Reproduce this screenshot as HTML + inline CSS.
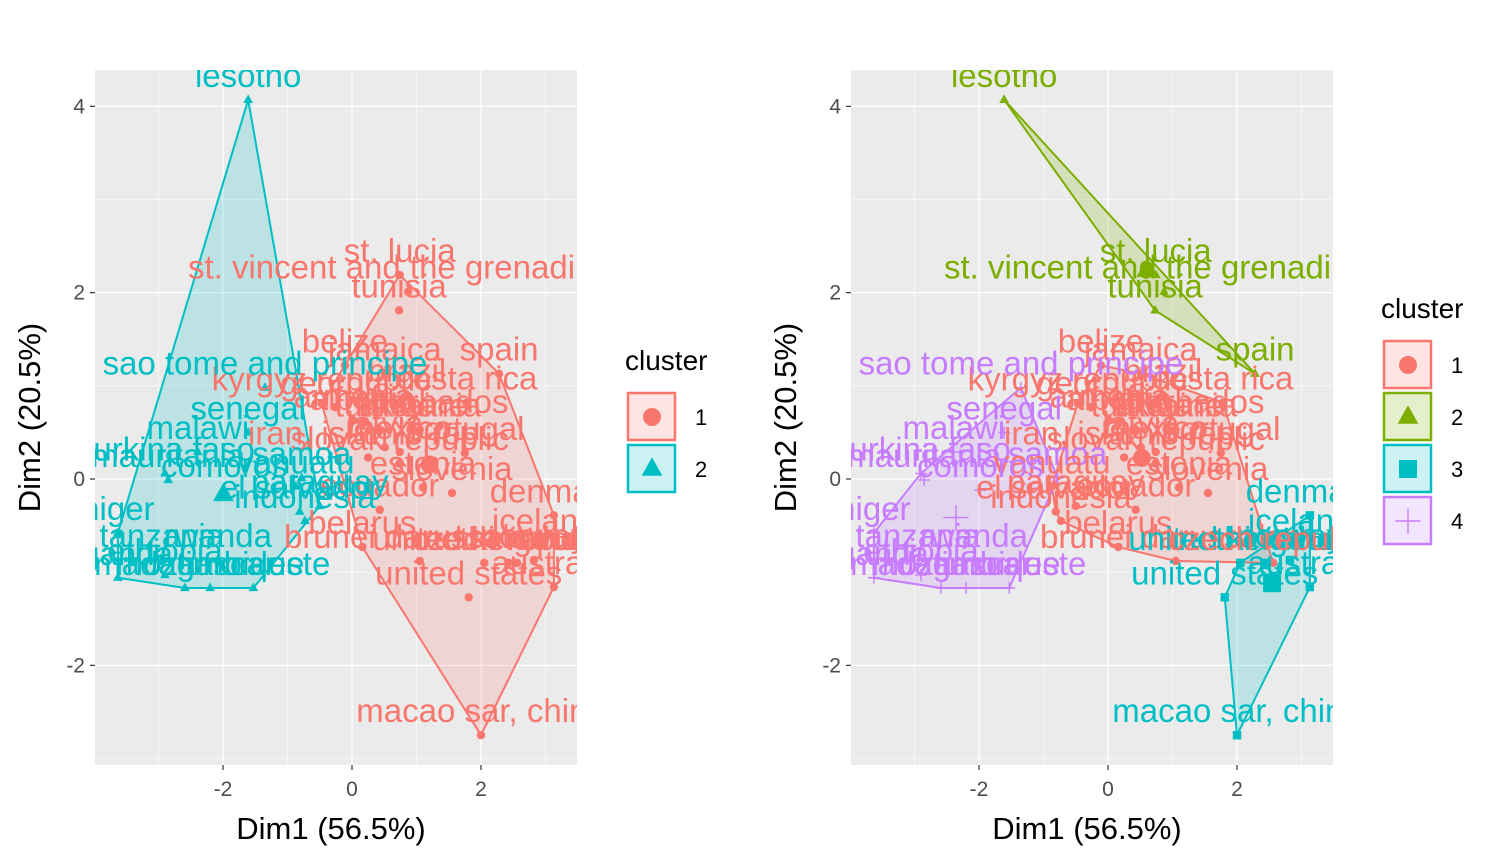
<!DOCTYPE html>
<html><head><meta charset="utf-8"><style>
html,body{margin:0;background:#fff;width:1512px;height:864px;overflow:hidden}
svg{display:block;overflow:hidden;font-family:"Liberation Sans",Arial,sans-serif}
</style></head><body>
<svg id="c" width="1512" height="864"></svg>
<script>
const countries=["lesotho","st. lucia","st. vincent and the grenadines","tunisia","spain","belize","jamaica","brazil","costa rica","kyrgyz republic","georgia","barbados","turkey","armenia","albania","portugal","iran, islamic rep.","slovak republic","estonia","slovenia","ecuador","ukraine","lithuania","latvia","mexico","denmark","iceland","belarus","brunei darussalam","united kingdom","netherlands","norway","czech republic","australia","united states","macao sar, china","sao tome and principe","senegal","malawi","burkina faso","mauritania","samoa","vanuatu","comoros","paraguay","el salvador","indonesia","niger","tanzania","rwanda","ethiopia","madagascar","timor-leste","uganda","mozambique"];
const dim1=[-1.61,0.74,0.87,0.73,2.28,-0.11,0.51,0.85,1.78,-0.47,-0.26,1.36,0.43,0.02,0.17,1.75,0.25,0.74,1.1,1.55,0.43,0.95,1.05,0.51,0.74,3.13,2.98,0.16,1.05,2.05,2.43,2.82,2.56,3.13,1.81,2.0,-1.35,-1.61,-2.39,-2.9,-2.85,-0.78,-0.87,-1.98,-0.5,-0.81,-0.73,-3.63,-2.95,-2.08,-2.9,-2.59,-1.53,-3.63,-2.2];
const dim2=[4.07,2.19,2.01,1.81,1.13,1.22,1.13,0.9,0.82,0.81,0.77,0.57,0.53,0.63,0.6,0.28,0.23,0.17,-0.09,-0.15,-0.33,0.53,0.53,0.34,0.29,-0.39,-0.71,-0.73,-0.88,-0.9,-0.9,-0.87,-0.9,-1.16,-1.27,-2.75,0.98,0.5,0.29,0.06,-0.01,0.01,-0.08,-0.12,-0.29,-0.35,-0.45,-0.58,-0.87,-0.87,-1.03,-1.17,-1.17,-1.06,-1.17];
const k2=[2,1,1,1,1,1,1,1,1,1,1,1,1,1,1,1,1,1,1,1,1,1,1,1,1,1,1,1,1,1,1,1,1,1,1,1,2,2,2,2,2,2,2,2,2,2,2,2,2,2,2,2,2,2,2];
const k4=[2,2,2,2,2,1,1,1,1,1,1,1,1,1,1,1,1,1,1,1,1,1,1,1,1,3,3,1,1,3,3,3,1,3,3,3,4,4,4,4,4,4,1,4,1,1,1,4,4,4,4,4,4,4,4];
const xTicks=[-2,0,2], yTicks=[-2,0,2,4];
const COLS2=["#F8766D","#00BFC4"], COLS4=["#F8766D","#7CAE00","#00BFC4","#C77CFF"];
const SH2=["circle","triangle"], SH4=["circle","triangle","square","plus"];
const NS="http://www.w3.org/2000/svg";
const svg=document.getElementById('c');
function el(t,a,p){const e=document.createElementNS(NS,t);for(const k in a)e.setAttribute(k,a[k]);(p||svg).appendChild(e);return e;}
const defs=el('defs',{});
function hull(pts){pts=pts.slice().sort((a,b)=>a[0]-b[0]||a[1]-b[1]);if(pts.length<3)return pts;
const cr=(o,a,b)=>(a[0]-o[0])*(b[1]-o[1])-(a[1]-o[1])*(b[0]-o[0]);const lo=[],up=[];
for(const p of pts){while(lo.length>=2&&cr(lo[lo.length-2],lo[lo.length-1],p)<=0)lo.pop();lo.push(p);}
for(let i=pts.length-1;i>=0;i--){const p=pts[i];while(up.length>=2&&cr(up[up.length-2],up[up.length-1],p)<=0)up.pop();up.push(p);}
up.pop();lo.pop();return lo.concat(up);}
function shape(g,s,x,y,r,col){
 if(s==="circle")return el('circle',{cx:x,cy:y,r:r,fill:col},g);
 if(s==="triangle")return el('polygon',{points:`${x},${y-r*1.3} ${x-r*1.15},${y+r*0.75} ${x+r*1.15},${y+r*0.75}`,fill:col},g);
 if(s==="square")return el('rect',{x:x-r,y:y-r,width:2*r,height:2*r,fill:col},g);
 return el('path',{d:`M${x-r*1.4},${y}H${x+r*1.4}M${x},${y-r*1.4}V${y+r*1.4}`,stroke:col,'stroke-width':1.4,fill:'none'},g);}
function panel(id,L,k,cols,shs){
 const R=L+482,T=70,B=765,x0=L+257,sx=64.5,y0=479,sy=93.17;
 const X=v=>x0+v*sx,Y=v=>y0-v*sy;
 const cp=el('clipPath',{id:'cp'+id},defs);el('rect',{x:L,y:T,width:R-L,height:B-T},cp);
 const bg=el('rect',{x:L,y:T,width:R-L,height:B-T,fill:'#EBEBEB'});
 
 
 const gg=el('g',{'clip-path':`url(#cp${id})`});
 
 
 for(let v=-5;v<=5;v++){const odd=v%2!==0;
  el('line',{x1:X(v),x2:X(v),y1:T,y2:B,stroke:'#fff','stroke-width':odd?0.6:1.3},gg);
  el('line',{x1:L,x2:R,y1:Y(v),y2:Y(v),stroke:'#fff','stroke-width':odd?0.6:1.3},gg);}
 const nk=cols.length;
 for(let c=1;c<=nk;c++){
  const pts=[];dim1.forEach((v,i)=>{if(k[i]===c)pts.push([X(v),Y(dim2[i])]);});
  const h=hull(pts);
  const poly=el('polygon',{points:h.map(p=>p.join(',')).join(' '),fill:cols[c-1],'fill-opacity':0.2,stroke:cols[c-1],'stroke-width':2},gg);
  
  
 }
 for(let c=1;c<=nk;c++){
  let sx1=0,sy1=0,n=0;
  dim1.forEach((v,i)=>{if(k[i]!==c)return;
   const p=shape(gg,shs[c-1],X(v),Y(dim2[i]),4.2,cols[c-1]);
   
   
   sx1+=v;sy1+=dim2[i];n++;});
  const m=shape(gg,shs[c-1],X(sx1/n),Y(sy1/n),9,cols[c-1]);
  
  
 }
 dim1.forEach((v,i)=>{
  const t=el('text',{x:X(v),y:Y(dim2[i])-13,'text-anchor':'middle','font-size':33,fill:cols[k[i]-1]},gg);
  t.textContent=countries[i];
  
  
 });
 xTicks.forEach(v=>{el('line',{x1:X(v),x2:X(v),y1:B,y2:B+5,stroke:'#333','stroke-width':1.2});
  const t=el('text',{x:X(v),y:B+31,'text-anchor':'middle','font-size':21,fill:'#4D4D4D'});t.textContent=v;
  
  });
 yTicks.forEach(v=>{el('line',{x1:L-5,x2:L,y1:Y(v),y2:Y(v),stroke:'#333','stroke-width':1.2});
  const t=el('text',{x:L-10,y:Y(v)+7,'text-anchor':'end','font-size':21,fill:'#4D4D4D'});t.textContent=v;
  
  });
 const xt=el('text',{x:(L+R)/2-5,y:839,'text-anchor':'middle','font-size':31,fill:'#000'});xt.textContent='Dim1 (56.5%)';
 
 
 const yt=el('text',{x:0,y:0,'text-anchor':'middle','font-size':31,fill:'#000',transform:`translate(${L-55},${(T+B)/2}) rotate(-90)`});yt.textContent='Dim2 (20.5%)';
 
 
}
function legend(lx,ty,cols,shs){
 const lg=el('g',{});
 
 
 const t=el('text',{x:lx-2,y:ty,'font-size':28,fill:'#000'},lg);t.textContent='cluster';
 
 
 cols.forEach((c,i)=>{const y=ty+22+i*52;
  const g=el('g',{},lg);
  
  
  el('rect',{x:lx+1,y:y+1,width:47,height:47,fill:'#fff',stroke:c,'stroke-width':2.5},g);
  el('rect',{x:lx+1,y:y+1,width:47,height:47,fill:c,'fill-opacity':0.2},g);
  shape(g,shs[i],lx+25,y+25,9,c);
  const tt=el('text',{x:lx+68,y:y+33,'font-size':22,fill:'#000'},g);tt.textContent=i+1;});
}
panel('a',95,k2,COLS2,SH2);
panel('b',851,k4,COLS4,SH4);
legend(627,370,COLS2,SH2);
legend(1383,318,COLS4,SH4);
</script>
</body></html>
